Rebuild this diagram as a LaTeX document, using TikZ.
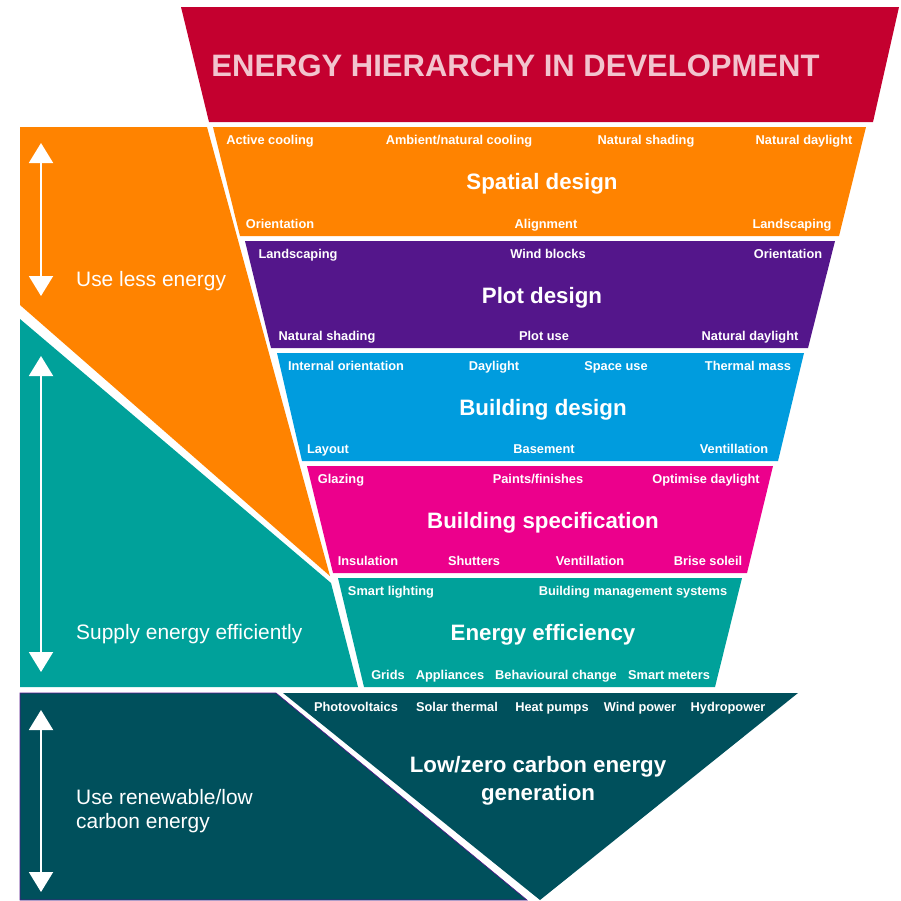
\documentclass[tikz,border=0pt]{standalone}
\usepackage{fontspec}
\setmainfont{Liberation Sans}
\usepackage{xcolor}
\usepackage{tikz}
\usetikzlibrary{arrows.meta}
\definecolor{hierRed}{RGB}{196,0,47}
\definecolor{spatialOrange}{RGB}{255,131,0}
\definecolor{plotPurple}{RGB}{84,22,139}
\definecolor{buildBlue}{RGB}{0,156,222}
\definecolor{specPink}{RGB}{236,0,140}
\definecolor{effTeal}{RGB}{0,161,154}
\definecolor{genTeal}{RGB}{0,80,92}
\definecolor{titlePink}{RGB}{242,196,206}

\begin{document}
\begin{tikzpicture}[x=1pt, y=-1pt,
  item/.style={text=white, inner sep=0pt, anchor=base, font=\fontsize{12.8}{14}\selectfont\bfseries},
  band/.style={text=white, inner sep=0pt, anchor=base, align=center, font=\fontsize{22.3}{28}\selectfont\bfseries},
  side/.style={text=white, inner sep=0pt, anchor=base west, align=left, font=\fontsize{20.9}{24}\selectfont},
  updown/.style={{Triangle[width=24pt, length=20pt]}-{Triangle[width=24pt, length=20pt]}, white, line width=2pt}
]
  \useasboundingbox (0,0) rectangle (901,900);
  % title
  \fill[hierRed] (181,7) -- (899,7) -- (873,122) -- (209,122) -- cycle;
  \node[text=titlePink, inner sep=0pt, anchor=base, font=\fontsize{31}{34}\selectfont\bfseries] (title) at (515.5,76.7) {ENERGY HIERARCHY IN DEVELOPMENT};
  % left panels
  \fill[spatialOrange] (20,127) -- (207,127) -- (330,576) -- (20,305) -- cycle;
  \fill[effTeal] (20,319) -- (331,583) -- (358,687) -- (20,687) -- cycle;
  \filldraw[fill=genTeal, draw=plotPurple, line width=0.6pt] (20,693) -- (276,693) -- (527,900) -- (20,900) -- cycle;
  \node[side] (less) at (76,286) {Use less energy};
  \node[side] (supply) at (76,639.3) {Supply energy efficiently};
  \node[side] (renew) at (76,828.3) {Use renewable/low\\carbon energy};
  \coordinate (lessTop) at (41,143);
  \coordinate (lessBot) at (41,296);
  \coordinate (supplyTop) at (41,356);
  \coordinate (supplyBot) at (41,672);
  \coordinate (renewTop) at (41,710);
  \coordinate (renewBot) at (41,892);
  \draw[updown] (lessTop) -- (lessBot);
  \draw[updown] (supplyTop) -- (supplyBot);
  \draw[updown] (renewTop) -- (renewBot);
  % funnel bands
  \fill[spatialOrange] (213,127) -- (866,127) -- (839,236) -- (240,236) -- cycle;
  \fill[plotPurple] (245,241) -- (835,241) -- (808,348) -- (271,348) -- cycle;
  \fill[buildBlue] (277,353) -- (804,353) -- (778,461) -- (302,461) -- cycle;
  \fill[specPink] (307,466) -- (773,466) -- (747,573) -- (333,573) -- cycle;
  \fill[effTeal] (338,578) -- (742,578) -- (715,687) -- (364,687) -- cycle;
  \fill[genTeal] (283,693) -- (798,693) -- (540,900) -- cycle;
  % spatial design
  \node[item] (sp1) at (270,144.3) {Active cooling};
  \node[item] (sp2) at (459,144.3) {Ambient/natural cooling};
  \node[item] (sp3) at (646,144.3) {Natural shading};
  \node[item] (sp4) at (804,144.3) {Natural daylight};
  \node[band] (spatial) at (542,189) {Spatial design};
  \node[item] (sp5) at (280,228.7) {Orientation};
  \node[item] (sp6) at (546,228.7) {Alignment};
  \node[item] (sp7) at (792,228.7) {Landscaping};
  % plot design
  \node[item] (pl1) at (298,258.3) {Landscaping};
  \node[item] (pl2) at (548,258.3) {Wind blocks};
  \node[item] (pl3) at (788,258.3) {Orientation};
  \node[band] (plot) at (542,303) {Plot design};
  \node[item] (pl4) at (327,340.7) {Natural shading};
  \node[item] (pl5) at (544,340.7) {Plot use};
  \node[item] (pl6) at (750,340.7) {Natural daylight};
  % building design
  \node[item] (bd1) at (346,370.3) {Internal orientation};
  \node[item] (bd2) at (494,370.3) {Daylight};
  \node[item] (bd3) at (616,370.3) {Space use};
  \node[item] (bd4) at (748,370.3) {Thermal mass};
  \node[band] (building) at (543,415) {Building design};
  \node[item] (bd5) at (328,453.7) {Layout};
  \node[item] (bd6) at (544,453.7) {Basement};
  \node[item] (bd7) at (734,453.7) {Ventillation};
  % building specification
  \node[item] (bs1) at (341,483.3) {Glazing};
  \node[item] (bs2) at (538,483.3) {Paints/finishes};
  \node[item] (bs3) at (706,483.3) {Optimise daylight};
  \node[band] (spec) at (543,528) {Building specification};
  \node[item] (bs4) at (368,565.7) {Insulation};
  \node[item] (bs5) at (474,565.7) {Shutters};
  \node[item] (bs6) at (590,565.7) {Ventillation};
  \node[item] (bs7) at (708,565.7) {Brise soleil};
  % energy efficiency
  \node[item] (ee1) at (391,595.3) {Smart lighting};
  \node[item] (ee2) at (633,595.3) {Building management systems};
  \node[band] (eff) at (543,640) {Energy efficiency};
  \node[item] (ee3) at (388,679.7) {Grids};
  \node[item] (ee4) at (450,679.7) {Appliances};
  \node[item] (ee5) at (556,679.7) {Behavioural change};
  \node[item] (ee6) at (669,679.7) {Smart meters};
  % generation
  \node[item] (gn1) at (356,711) {Photovoltaics};
  \node[item] (gn2) at (457,711) {Solar thermal};
  \node[item] (gn3) at (552,711) {Heat pumps};
  \node[item] (gn4) at (640,711) {Wind power};
  \node[item] (gn5) at (728,711) {Hydropower};
  \node[band] (gen) at (538,800) {Low/zero carbon energy\\generation};
\end{tikzpicture}
\end{document}
